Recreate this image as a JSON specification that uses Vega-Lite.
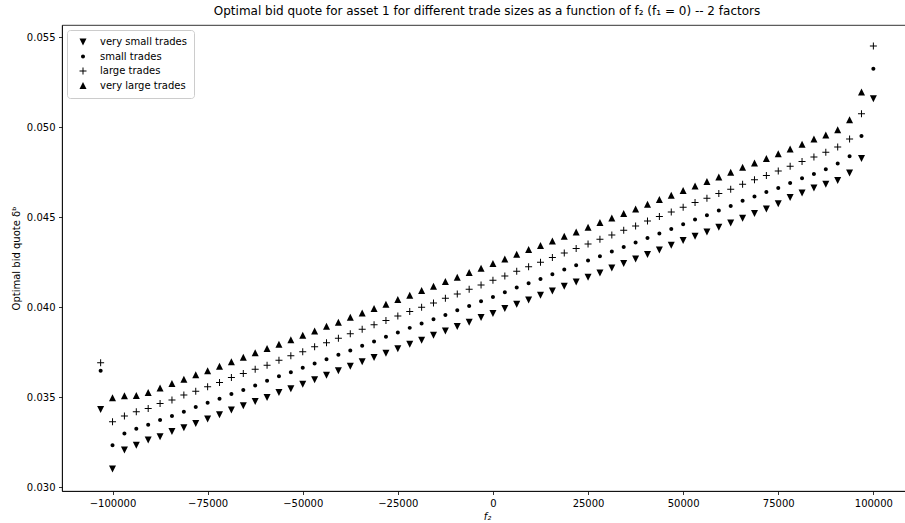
{
"$schema": "https://vega.github.io/schema/vega-lite/v6.json",
"width": 850, "height": 466,
"autosize": "none",
"padding": {"left": 62, "top": 25, "right": 0, "bottom": 32},
"background": "white",
"title": {"text": "Optimal bid quote for asset 1 for different trade sizes as a function of f₂ (f₁ = 0) -- 2 factors", "font": "DejaVu Sans", "fontSize": 12, "fontWeight": "normal", "color": "black", "anchor": "middle", "offset": 7},
"config": {
 "view": {"stroke": "black", "strokeWidth": 0.8},
 "axis": {"labelFont": "DejaVu Sans", "labelFontSize": 10, "labelColor": "black", "titleFont": "DejaVu Sans", "titleFontSize": 10, "titleFontWeight": "normal", "titleColor": "black", "tickColor": "black", "tickSize": 3.5, "tickWidth": 0.8, "domainColor": "black", "domainWidth": 0.8, "grid": false, "labelPadding": 3.5}
},
"data": {"values": [
{"f2":-103125,"trade":"very small trades","quote":0.034317},{"f2":-100000,"trade":"very small trades","quote":0.031},{"f2":-96875,"trade":"very small trades","quote":0.032056},{"f2":-93750,"trade":"very small trades","quote":0.032317},{"f2":-90625,"trade":"very small trades","quote":0.032611},{"f2":-87500,"trade":"very small trades","quote":0.032794},{"f2":-84375,"trade":"very small trades","quote":0.033094},{"f2":-81250,"trade":"very small trades","quote":0.033294},{"f2":-78125,"trade":"very small trades","quote":0.033539},{"f2":-75000,"trade":"very small trades","quote":0.033778},{"f2":-71875,"trade":"very small trades","quote":0.034017},{"f2":-68750,"trade":"very small trades","quote":0.034278},{"f2":-65625,"trade":"very small trades","quote":0.034517},{"f2":-62500,"trade":"very small trades","quote":0.034761},{"f2":-59375,"trade":"very small trades","quote":0.034983},{"f2":-56250,"trade":"very small trades","quote":0.035261},{"f2":-53125,"trade":"very small trades","quote":0.035472},{"f2":-50000,"trade":"very small trades","quote":0.035722},{"f2":-46875,"trade":"very small trades","quote":0.035961},{"f2":-43750,"trade":"very small trades","quote":0.036222},{"f2":-40625,"trade":"very small trades","quote":0.036461},{"f2":-37500,"trade":"very small trades","quote":0.036722},{"f2":-34375,"trade":"very small trades","quote":0.036961},{"f2":-31250,"trade":"very small trades","quote":0.037206},{"f2":-28125,"trade":"very small trades","quote":0.037444},{"f2":-25000,"trade":"very small trades","quote":0.037683},{"f2":-21875,"trade":"very small trades","quote":0.037944},{"f2":-18750,"trade":"very small trades","quote":0.038167},{"f2":-15625,"trade":"very small trades","quote":0.038444},{"f2":-12500,"trade":"very small trades","quote":0.038683},{"f2":-9375,"trade":"very small trades","quote":0.038928},{"f2":-6250,"trade":"very small trades","quote":0.039167},{"f2":-3125,"trade":"very small trades","quote":0.039428},{"f2":0,"trade":"very small trades","quote":0.03965},{"f2":3125,"trade":"very small trades","quote":0.039928},{"f2":6250,"trade":"very small trades","quote":0.040167},{"f2":9375,"trade":"very small trades","quote":0.040406},{"f2":12500,"trade":"very small trades","quote":0.040667},{"f2":15625,"trade":"very small trades","quote":0.040906},{"f2":18750,"trade":"very small trades","quote":0.041167},{"f2":21875,"trade":"very small trades","quote":0.041406},{"f2":25000,"trade":"very small trades","quote":0.041667},{"f2":28125,"trade":"very small trades","quote":0.041906},{"f2":31250,"trade":"very small trades","quote":0.042183},{"f2":34375,"trade":"very small trades","quote":0.042428},{"f2":37500,"trade":"very small trades","quote":0.042683},{"f2":40625,"trade":"very small trades","quote":0.042928},{"f2":43750,"trade":"very small trades","quote":0.043183},{"f2":46875,"trade":"very small trades","quote":0.043444},{"f2":50000,"trade":"very small trades","quote":0.043706},{"f2":53125,"trade":"very small trades","quote":0.043944},{"f2":56250,"trade":"very small trades","quote":0.044183},{"f2":59375,"trade":"very small trades","quote":0.044444},{"f2":62500,"trade":"very small trades","quote":0.044683},{"f2":65625,"trade":"very small trades","quote":0.044944},{"f2":68750,"trade":"very small trades","quote":0.045206},{"f2":71875,"trade":"very small trades","quote":0.045461},{"f2":75000,"trade":"very small trades","quote":0.04575},{"f2":78125,"trade":"very small trades","quote":0.046094},{"f2":81250,"trade":"very small trades","quote":0.04635},{"f2":84375,"trade":"very small trades","quote":0.046628},{"f2":87500,"trade":"very small trades","quote":0.046833},{"f2":90625,"trade":"very small trades","quote":0.047039},{"f2":93750,"trade":"very small trades","quote":0.047461},{"f2":96875,"trade":"very small trades","quote":0.048261},{"f2":100000,"trade":"very small trades","quote":0.051594},
{"f2":-103125,"trade":"small trades","quote":0.036461},{"f2":-100000,"trade":"small trades","quote":0.032317},{"f2":-96875,"trade":"small trades","quote":0.032983},{"f2":-93750,"trade":"small trades","quote":0.033239},{"f2":-90625,"trade":"small trades","quote":0.033461},{"f2":-87500,"trade":"small trades","quote":0.033722},{"f2":-84375,"trade":"small trades","quote":0.033944},{"f2":-81250,"trade":"small trades","quote":0.034183},{"f2":-78125,"trade":"small trades","quote":0.034444},{"f2":-75000,"trade":"small trades","quote":0.034683},{"f2":-71875,"trade":"small trades","quote":0.034906},{"f2":-68750,"trade":"small trades","quote":0.035167},{"f2":-65625,"trade":"small trades","quote":0.035389},{"f2":-62500,"trade":"small trades","quote":0.03565},{"f2":-59375,"trade":"small trades","quote":0.035906},{"f2":-56250,"trade":"small trades","quote":0.036167},{"f2":-53125,"trade":"small trades","quote":0.036378},{"f2":-50000,"trade":"small trades","quote":0.036628},{"f2":-46875,"trade":"small trades","quote":0.036872},{"f2":-43750,"trade":"small trades","quote":0.037111},{"f2":-40625,"trade":"small trades","quote":0.03735},{"f2":-37500,"trade":"small trades","quote":0.037594},{"f2":-34375,"trade":"small trades","quote":0.03785},{"f2":-31250,"trade":"small trades","quote":0.038094},{"f2":-28125,"trade":"small trades","quote":0.03835},{"f2":-25000,"trade":"small trades","quote":0.038594},{"f2":-21875,"trade":"small trades","quote":0.03885},{"f2":-18750,"trade":"small trades","quote":0.039094},{"f2":-15625,"trade":"small trades","quote":0.039333},{"f2":-12500,"trade":"small trades","quote":0.039572},{"f2":-9375,"trade":"small trades","quote":0.039833},{"f2":-6250,"trade":"small trades","quote":0.040072},{"f2":-3125,"trade":"small trades","quote":0.040333},{"f2":0,"trade":"small trades","quote":0.040572},{"f2":3125,"trade":"small trades","quote":0.040833},{"f2":6250,"trade":"small trades","quote":0.041094},{"f2":9375,"trade":"small trades","quote":0.041333},{"f2":12500,"trade":"small trades","quote":0.041572},{"f2":15625,"trade":"small trades","quote":0.041833},{"f2":18750,"trade":"small trades","quote":0.042094},{"f2":21875,"trade":"small trades","quote":0.042333},{"f2":25000,"trade":"small trades","quote":0.042594},{"f2":28125,"trade":"small trades","quote":0.042833},{"f2":31250,"trade":"small trades","quote":0.043094},{"f2":34375,"trade":"small trades","quote":0.04335},{"f2":37500,"trade":"small trades","quote":0.043594},{"f2":40625,"trade":"small trades","quote":0.04385},{"f2":43750,"trade":"small trades","quote":0.044094},{"f2":46875,"trade":"small trades","quote":0.04435},{"f2":50000,"trade":"small trades","quote":0.044611},{"f2":53125,"trade":"small trades","quote":0.044872},{"f2":56250,"trade":"small trades","quote":0.045111},{"f2":59375,"trade":"small trades","quote":0.045372},{"f2":62500,"trade":"small trades","quote":0.045628},{"f2":65625,"trade":"small trades","quote":0.045917},{"f2":68750,"trade":"small trades","quote":0.04615},{"f2":71875,"trade":"small trades","quote":0.0464},{"f2":75000,"trade":"small trades","quote":0.046628},{"f2":78125,"trade":"small trades","quote":0.046906},{"f2":81250,"trade":"small trades","quote":0.047167},{"f2":84375,"trade":"small trades","quote":0.047406},{"f2":87500,"trade":"small trades","quote":0.047667},{"f2":90625,"trade":"small trades","quote":0.047983},{"f2":93750,"trade":"small trades","quote":0.048389},{"f2":96875,"trade":"small trades","quote":0.049517},{"f2":100000,"trade":"small trades","quote":0.053261},
{"f2":-103125,"trade":"large trades","quote":0.036906},{"f2":-100000,"trade":"large trades","quote":0.033628},{"f2":-96875,"trade":"large trades","quote":0.033944},{"f2":-93750,"trade":"large trades","quote":0.034183},{"f2":-90625,"trade":"large trades","quote":0.034372},{"f2":-87500,"trade":"large trades","quote":0.03465},{"f2":-84375,"trade":"large trades","quote":0.034833},{"f2":-81250,"trade":"large trades","quote":0.035111},{"f2":-78125,"trade":"large trades","quote":0.035333},{"f2":-75000,"trade":"large trades","quote":0.035572},{"f2":-71875,"trade":"large trades","quote":0.035817},{"f2":-68750,"trade":"large trades","quote":0.036094},{"f2":-65625,"trade":"large trades","quote":0.036317},{"f2":-62500,"trade":"large trades","quote":0.036556},{"f2":-59375,"trade":"large trades","quote":0.036778},{"f2":-56250,"trade":"large trades","quote":0.037056},{"f2":-53125,"trade":"large trades","quote":0.037294},{"f2":-50000,"trade":"large trades","quote":0.037517},{"f2":-46875,"trade":"large trades","quote":0.037794},{"f2":-43750,"trade":"large trades","quote":0.038017},{"f2":-40625,"trade":"large trades","quote":0.038278},{"f2":-37500,"trade":"large trades","quote":0.038517},{"f2":-34375,"trade":"large trades","quote":0.038778},{"f2":-31250,"trade":"large trades","quote":0.039017},{"f2":-28125,"trade":"large trades","quote":0.039261},{"f2":-25000,"trade":"large trades","quote":0.039517},{"f2":-21875,"trade":"large trades","quote":0.039761},{"f2":-18750,"trade":"large trades","quote":0.04},{"f2":-15625,"trade":"large trades","quote":0.040239},{"f2":-12500,"trade":"large trades","quote":0.0405},{"f2":-9375,"trade":"large trades","quote":0.040739},{"f2":-6250,"trade":"large trades","quote":0.041},{"f2":-3125,"trade":"large trades","quote":0.041239},{"f2":0,"trade":"large trades","quote":0.0415},{"f2":3125,"trade":"large trades","quote":0.041739},{"f2":6250,"trade":"large trades","quote":0.042},{"f2":9375,"trade":"large trades","quote":0.04225},{"f2":12500,"trade":"large trades","quote":0.0425},{"f2":15625,"trade":"large trades","quote":0.042761},{"f2":18750,"trade":"large trades","quote":0.043017},{"f2":21875,"trade":"large trades","quote":0.043261},{"f2":25000,"trade":"large trades","quote":0.043517},{"f2":28125,"trade":"large trades","quote":0.043778},{"f2":31250,"trade":"large trades","quote":0.044017},{"f2":34375,"trade":"large trades","quote":0.044278},{"f2":37500,"trade":"large trades","quote":0.044517},{"f2":40625,"trade":"large trades","quote":0.044794},{"f2":43750,"trade":"large trades","quote":0.045039},{"f2":46875,"trade":"large trades","quote":0.045294},{"f2":50000,"trade":"large trades","quote":0.045556},{"f2":53125,"trade":"large trades","quote":0.045817},{"f2":56250,"trade":"large trades","quote":0.046056},{"f2":59375,"trade":"large trades","quote":0.046317},{"f2":62500,"trade":"large trades","quote":0.046556},{"f2":65625,"trade":"large trades","quote":0.046833},{"f2":68750,"trade":"large trades","quote":0.047083},{"f2":71875,"trade":"large trades","quote":0.047322},{"f2":75000,"trade":"large trades","quote":0.047572},{"f2":78125,"trade":"large trades","quote":0.047833},{"f2":81250,"trade":"large trades","quote":0.048094},{"f2":84375,"trade":"large trades","quote":0.04835},{"f2":87500,"trade":"large trades","quote":0.048611},{"f2":90625,"trade":"large trades","quote":0.048906},{"f2":93750,"trade":"large trades","quote":0.04935},{"f2":96875,"trade":"large trades","quote":0.050761},{"f2":100000,"trade":"large trades","quote":0.054517},
{"f2":-100000,"trade":"very large trades","quote":0.034961},{"f2":-96875,"trade":"very large trades","quote":0.035072},{"f2":-93750,"trade":"very large trades","quote":0.035094},{"f2":-90625,"trade":"very large trades","quote":0.035261},{"f2":-87500,"trade":"very large trades","quote":0.0355},{"f2":-84375,"trade":"very large trades","quote":0.035761},{"f2":-81250,"trade":"very large trades","quote":0.036},{"f2":-78125,"trade":"very large trades","quote":0.036239},{"f2":-75000,"trade":"very large trades","quote":0.036461},{"f2":-71875,"trade":"very large trades","quote":0.036722},{"f2":-68750,"trade":"very large trades","quote":0.036961},{"f2":-65625,"trade":"very large trades","quote":0.037222},{"f2":-62500,"trade":"very large trades","quote":0.037461},{"f2":-59375,"trade":"very large trades","quote":0.037706},{"f2":-56250,"trade":"very large trades","quote":0.037944},{"f2":-53125,"trade":"very large trades","quote":0.038194},{"f2":-50000,"trade":"very large trades","quote":0.038444},{"f2":-46875,"trade":"very large trades","quote":0.038683},{"f2":-43750,"trade":"very large trades","quote":0.038944},{"f2":-40625,"trade":"very large trades","quote":0.039167},{"f2":-37500,"trade":"very large trades","quote":0.039444},{"f2":-34375,"trade":"very large trades","quote":0.039683},{"f2":-31250,"trade":"very large trades","quote":0.039928},{"f2":-28125,"trade":"very large trades","quote":0.040167},{"f2":-25000,"trade":"very large trades","quote":0.040428},{"f2":-21875,"trade":"very large trades","quote":0.040667},{"f2":-18750,"trade":"very large trades","quote":0.040928},{"f2":-15625,"trade":"very large trades","quote":0.041167},{"f2":-12500,"trade":"very large trades","quote":0.041428},{"f2":-9375,"trade":"very large trades","quote":0.041667},{"f2":-6250,"trade":"very large trades","quote":0.041928},{"f2":-3125,"trade":"very large trades","quote":0.042167},{"f2":0,"trade":"very large trades","quote":0.042428},{"f2":3125,"trade":"very large trades","quote":0.042683},{"f2":6250,"trade":"very large trades","quote":0.042944},{"f2":9375,"trade":"very large trades","quote":0.043206},{"f2":12500,"trade":"very large trades","quote":0.043428},{"f2":15625,"trade":"very large trades","quote":0.043683},{"f2":18750,"trade":"very large trades","quote":0.043944},{"f2":21875,"trade":"very large trades","quote":0.044183},{"f2":25000,"trade":"very large trades","quote":0.044444},{"f2":28125,"trade":"very large trades","quote":0.044706},{"f2":31250,"trade":"very large trades","quote":0.044961},{"f2":34375,"trade":"very large trades","quote":0.045206},{"f2":37500,"trade":"very large trades","quote":0.045461},{"f2":40625,"trade":"very large trades","quote":0.045722},{"f2":43750,"trade":"very large trades","quote":0.045983},{"f2":46875,"trade":"very large trades","quote":0.046222},{"f2":50000,"trade":"very large trades","quote":0.046483},{"f2":53125,"trade":"very large trades","quote":0.046739},{"f2":56250,"trade":"very large trades","quote":0.046983},{"f2":59375,"trade":"very large trades","quote":0.047239},{"f2":62500,"trade":"very large trades","quote":0.0475},{"f2":65625,"trade":"very large trades","quote":0.047778},{"f2":68750,"trade":"very large trades","quote":0.048017},{"f2":71875,"trade":"very large trades","quote":0.048261},{"f2":75000,"trade":"very large trades","quote":0.048528},{"f2":78125,"trade":"very large trades","quote":0.048794},{"f2":81250,"trade":"very large trades","quote":0.049056},{"f2":84375,"trade":"very large trades","quote":0.04935},{"f2":87500,"trade":"very large trades","quote":0.049572},{"f2":90625,"trade":"very large trades","quote":0.049872},{"f2":93750,"trade":"very large trades","quote":0.050428},{"f2":96875,"trade":"very large trades","quote":0.051961}
]},
"mark": {"type": "point", "filled": true, "fill": "black", "strokeWidth": 0, "opacity": 1, "size": 49, "clip": false},
"encoding": {
 "x": {"field": "f2", "type": "quantitative", "scale": {"domain": [-113281, 110156], "nice": false, "zero": false},
   "axis": {"values": [-100000, -75000, -50000, -25000, 0, 25000, 50000, 75000, 100000], "format": "d", "title": "f₂", "titleFontStyle": "italic", "titlePadding": 3}},
 "y": {"field": "quote", "type": "quantitative", "scale": {"domain": [0.02978, 0.05569], "nice": false, "zero": false},
   "axis": {"values": [0.03, 0.035, 0.04, 0.045, 0.05, 0.055], "format": ".3f", "title": "Optimal bid quote δᵇ", "titlePadding": 5}},
 "shape": {"field": "trade", "type": "nominal",
   "scale": {"domain": ["very small trades", "small trades", "large trades", "very large trades"], "range": ["M0,1L-1,-1L1,-1Z", "M0.571,0A0.571,0.571,0,1,1,-0.571,0A0.571,0.571,0,1,1,0.571,0Z", "M-1,-0.143L-0.143,-0.143L-0.143,-1L0.143,-1L0.143,-0.143L1,-0.143L1,0.143L0.143,0.143L0.143,1L-0.143,1L-0.143,0.143L-1,0.143Z", "M0,-1L-1,1L1,1Z"]},
   "legend": {"title": null, "orient": "top-left", "offset": 5, "padding": 7, "strokeColor": "#cccccc", "cornerRadius": 3, "fillColor": "white", "labelFont": "DejaVu Sans", "labelFontSize": 10, "labelColor": "black", "rowPadding": 4.5, "symbolOffset": 4, "labelOffset": 12, "symbolSize": 49, "symbolFillColor": "black", "symbolStrokeWidth": 0,
     "encode": {"symbols": {"update": {"fill": {"value": "black"}, "opacity": {"value": 1}}}}}}
}
}
